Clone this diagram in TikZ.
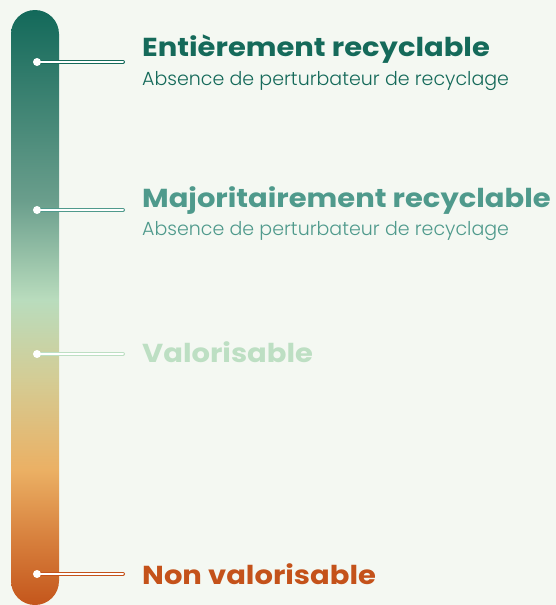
\documentclass[tikz,border=0pt]{standalone}
\usepackage{fontspec}
\usepackage{graphicx}
\setmainfont{Poppins}
\newfontfamily\lightfont{Poppins Light}
\definecolor{bg}{HTML}{F4F8F2}
\definecolor{cA}{HTML}{156A5A}
\definecolor{cB}{HTML}{4F9A8C}
\definecolor{cC}{HTML}{BDDFC3}
\definecolor{cD}{HTML}{C4521A}
\definecolor{gA}{HTML}{C4561C}
\definecolor{gB}{HTML}{D77F3C}
\definecolor{gC}{HTML}{EBB064}
\definecolor{gD}{HTML}{D4CC94}
\definecolor{gE}{HTML}{B9DCBD}
\definecolor{gF}{HTML}{6A9E8C}
\definecolor{gG}{HTML}{13695A}
\pgfdeclareverticalshading{barshade}{100bp}{color(0bp)=(gA); color(25bp)=(gA); color(30.45bp)=(gB); color(36.35bp)=(gC); color(43.9bp)=(gD); color(50.65bp)=(gE); color(59bp)=(gF); color(75bp)=(gG); color(100bp)=(gG)}
\newcommand{\wtitle}[1]{\scalebox{1.115}[1]{\fontsize{26}{26}\selectfont\bfseries #1}}
\newcommand{\wsub}[1]{\scalebox{1.0}[1]{\fontsize{19}{19}\selectfont\lightfont #1}}
\tikzset{
  titletxt/.style={anchor=base west, inner sep=0pt},
  subtxt/.style={anchor=base west, inner sep=0pt},
  connout/.style={line width=4pt, line cap=round, draw=#1},
  connin/.style={line width=2pt, line cap=round, draw=white},
  dotst/.style={circle, fill=white, inner sep=0pt, minimum size=8pt},
}
\begin{document}
\begin{tikzpicture}[x=1pt,y=-1pt]
\fill[bg] (0,0) rectangle (556,605);
\useasboundingbox (0,0) rectangle (556,605);
\path[shading=barshade, rounded corners=24pt] (11,10) rectangle (59,605);
% connectors
\foreach \n/\yy/\cc in {1/62/cA, 2/210/cB, 3/354/cC, 4/574/cD}{
  \coordinate (p\n) at (37,\yy);
  \coordinate (e\n) at (123,\yy);
  \draw[connout=\cc] (p\n) -- (e\n);
  \draw[connin] (p\n) -- (e\n);
  \node[dotst] (d\n) at (p\n) {};
}
% texts
\node[titletxt, text=cA] (t1) at (142,56) {\wtitle{Entièrement recyclable}};
\node[subtxt, text=cA] (s1) at (142,85) {\wsub{Absence de perturbateur de recyclage}};
\node[titletxt, text=cB] (t2) at (142,207) {\wtitle{Majoritairement recyclable}};
\node[subtxt, text=cB] (s2) at (142,235) {\wsub{Absence de perturbateur de recyclage}};
\node[titletxt, text=cC] (t3) at (142,362) {\wtitle{Valorisable}};
\node[titletxt, text=cD] (t4) at (142,584) {\wtitle{Non valorisable}};
\end{tikzpicture}
\end{document}
